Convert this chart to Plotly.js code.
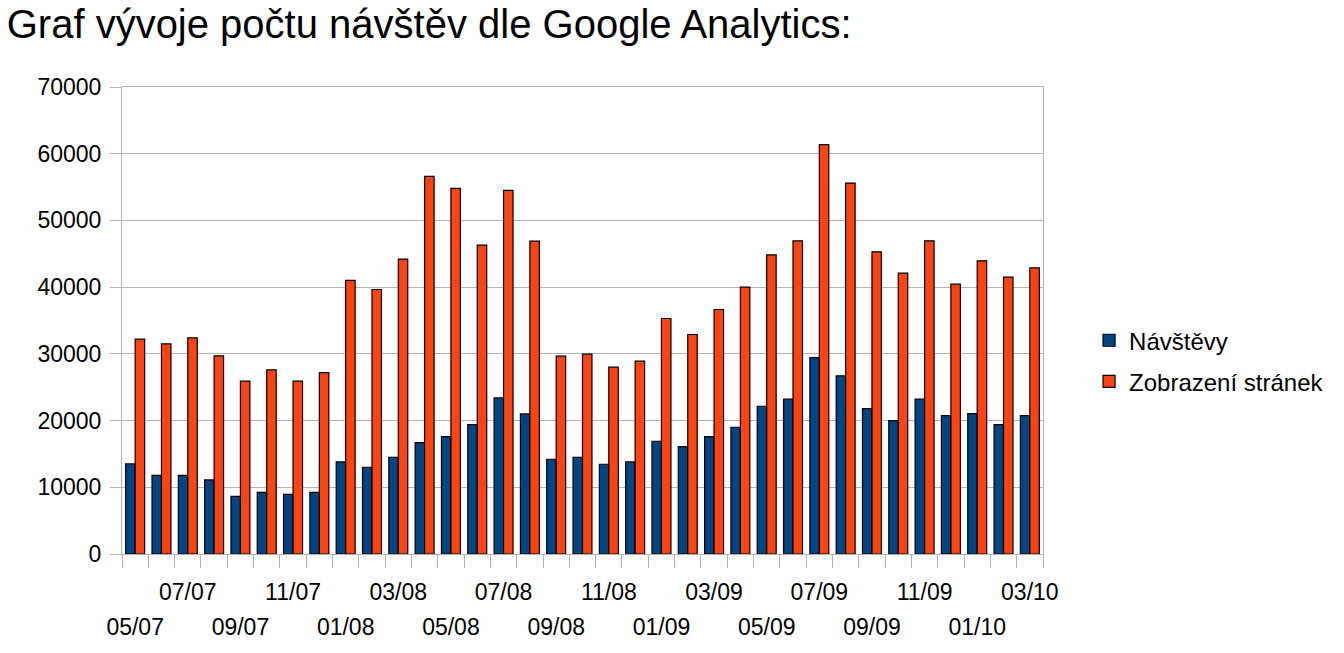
<!DOCTYPE html>
<html>
<head>
<meta charset="utf-8">
<script src="https://cdn.plot.ly/plotly-3.0.1.min.js"></script>
<style>html,body{margin:0;padding:0;background:#fff;}#chart{width:1344px;height:653px;}</style>
</head>
<body>
<div id="chart"></div>
<script>
const months = ["05/07","06/07","07/07","08/07","09/07","10/07","11/07","12/07",
  "01/08","02/08","03/08","04/08","05/08","06/08","07/08","08/08","09/08","10/08","11/08","12/08",
  "01/09","02/09","03/09","04/09","05/09","06/09","07/09","08/09","09/09","10/09","11/09","12/09",
  "01/10","02/10","03/10"];
const visits = [13500,11800,11800,11100,8650,9250,8950,9250,
  13800,13000,14500,16700,17600,19400,23400,21000,14200,14500,13450,13800,
  16900,16100,17600,19000,22150,23200,29450,26700,21800,20000,23200,20750,
  21050,19400,20750];
const pageviews = [32200,31500,32400,29700,25900,27600,25900,27200,
  41000,39650,44200,56600,54800,46300,54500,46900,29650,29950,28000,28900,
  35300,32900,36650,40000,44850,46950,61350,55600,45300,42100,46950,40450,
  43950,41500,42900];
const seriesNames = ["Návštěvy","Zobrazení stránek"];
const yTicks = [0,10000,20000,30000,40000,50000,60000,70000];
const yTickText = ["0","10000","20000","30000","40000","50000","60000","70000"];
const chartTitle = "Graf vývoje počtu návštěv dle Google Analytics:";

const FONT = "Liberation Sans, Arial, sans-serif";
const topRow = months.map((m,i) => (i % 4 === 2) ? m : "");
const bottomRow = months.map((m,i) => (i % 4 === 0) ? m : "");

const traces = [
  {type:"bar", x:months, y:visits, name:seriesNames[0], legendgroup:"a",
   marker:{color:"#004586", line:{color:"#000000", width:1.2}}, hoverinfo:"x+y"},
  {type:"bar", x:months, y:pageviews, name:seriesNames[1], legendgroup:"b",
   marker:{color:"#ff420e", line:{color:"#000000", width:1.2}}, hoverinfo:"x+y"},
  {type:"scatter", mode:"none", x:months, y:visits, xaxis:"x2", showlegend:false, hoverinfo:"skip"}
];

const layout = {
  width:1344, height:653,
  paper_bgcolor:"#ffffff", plot_bgcolor:"#ffffff",
  margin:{l:122, r:301, t:87, b:99},
  font:{family:FONT, size:23, color:"#000000"},
  title:{text:chartTitle, x:0.005, xref:"container", xanchor:"left",
         y:0.963, yref:"container", yanchor:"middle",
         font:{family:FONT, size:40, color:"#000000"}},
  barmode:"group", bargap:0.28, bargroupgap:0,
  showlegend:true,
  legend:{x:1.05, xanchor:"left", y:0.413, yanchor:"middle",
          font:{family:FONT, size:24, color:"#000000"},
          traceorder:"grouped", tracegroupgap:7, bgcolor:"rgba(0,0,0,0)"},
  xaxis:{type:"category", categoryorder:"array", categoryarray:months,
         range:[-0.5, months.length-0.5],
         tickmode:"array", tickvals:months, ticktext:topRow,
         tickson:"boundaries", ticks:"outside", ticklen:13, tickwidth:1, tickcolor:"#b3b3b3",
         showline:true, linecolor:"#b3b3b3", linewidth:1, mirror:true,
         showgrid:false, zeroline:false, tickangle:0, ticklabelstandoff:17,
         tickfont:{family:FONT, size:23, color:"#000000"}, fixedrange:true},
  xaxis2:{type:"category", categoryorder:"array", categoryarray:months,
          overlaying:"x", side:"bottom", anchor:"y", matches:"x",
          range:[-0.5, months.length-0.5],
          tickmode:"array", tickvals:months, ticktext:bottomRow,
          ticks:"", showline:false, showgrid:false, zeroline:false, tickangle:0,
          ticklabelstandoff:57,
          tickfont:{family:FONT, size:23, color:"#000000"}, fixedrange:true},
  yaxis:{range:[0,70000], tickmode:"array", tickvals:yTicks, ticktext:yTickText,
         ticks:"outside", ticklen:11, tickwidth:1, tickcolor:"#b3b3b3",
         showgrid:true, gridcolor:"#b3b3b3", gridwidth:1,
         showline:true, linecolor:"#b3b3b3", linewidth:1, mirror:true,
         zeroline:false, ticklabelstandoff:4,
         tickfont:{family:FONT, size:23, color:"#000000"}, fixedrange:true}
};

Plotly.newPlot("chart", traces, layout, {displayModeBar:false});
</script>
</body>
</html>
